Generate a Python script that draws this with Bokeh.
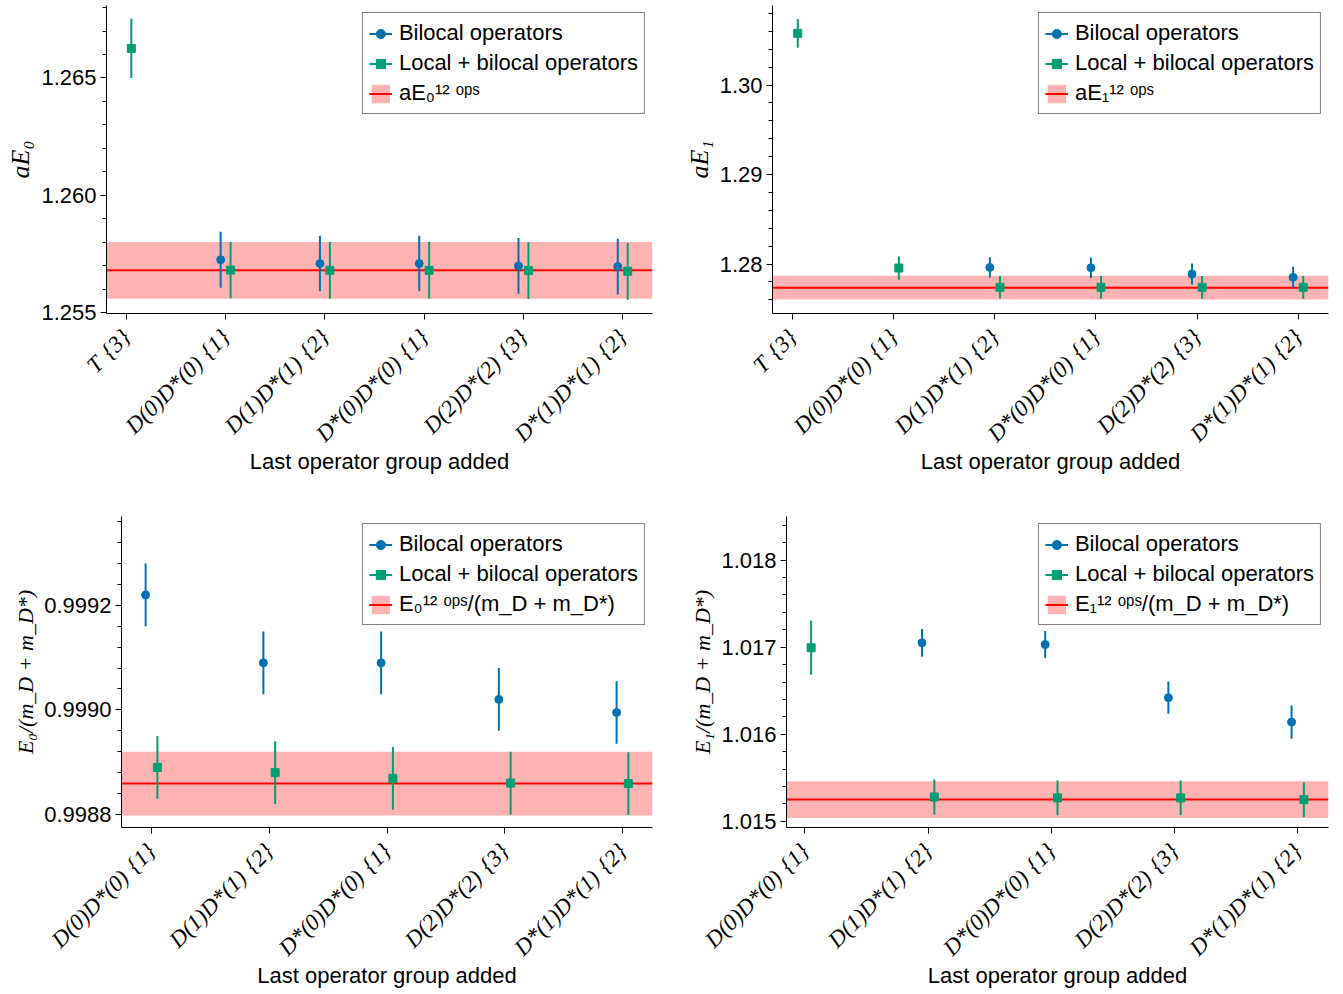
import math
from bokeh.plotting import figure
from bokeh.layouts import column, row
from bokeh.models import (ColumnDataSource, FixedTicker, SingleIntervalTicker, Legend, LegendItem,
                          Range1d, PrintfTickFormatter)
from bokeh.embed import file_html
from bokeh.resources import INLINE

NAN = float("nan")

# ---------------- data ----------------
cats_top = ["T\u2004{3}", "D(0)D*(0)\u2004{1}", "D(1)D*(1)\u2004{2}", "D*(0)D*(0)\u2004{1}",
            "D(2)D*(2)\u2004{3}", "D*(1)D*(1)\u2004{2}"]
cats_bottom = ["D(0)D*(0)\u2004{1}", "D(1)D*(1)\u2004{2}", "D*(0)D*(0)\u2004{1}",
               "D(2)D*(2)\u2004{3}", "D*(1)D*(1)\u2004{2}"]

# panel 1: aE0
e0_bil = [NAN, 1.25725, 1.25709, 1.25709, 1.25699, 1.25696]
e0_bil_err = [NAN, 0.00119, 0.00118, 0.00118, 0.00119, 0.00119]
e0_loc = [1.26626, 1.25681, 1.25680, 1.25680, 1.25679, 1.25676]
e0_loc_err = [0.00126, 0.00120, 0.00121, 0.00121, 0.00121, 0.00121]
e0_ref, e0_ref_err = 1.25680, 0.00121

# panel 2: aE1
e1_bil = [NAN, NAN, 1.27963, 1.27959, 1.27889, 1.27852]
e1_bil_err = [NAN, NAN, 0.00113, 0.00115, 0.00118, 0.00117]
e1_loc = [1.30578, 1.27956, 1.27741, 1.27740, 1.27740, 1.27740]
e1_loc_err = [0.00160, 0.00130, 0.00126, 0.00126, 0.00126, 0.00126]
e1_ref, e1_ref_err = 1.27737, 0.00132

# panel 3: E0/(mD+mD*)
r0_bil = [0.99922, 0.99909, 0.99909, 0.99902, 0.998995]
r0_bil_err = [0.00006, 0.00006, 0.00006, 0.00006, 0.00006]
r0_loc = [0.99889, 0.99888, 0.998869, 0.99886, 0.998859]
r0_loc_err = [0.00006, 0.00006, 0.00006, 0.00006, 0.00006]
r0_ref, r0_ref_err = 0.998859, 0.000061

# panel 4: E1/(mD+mD*)
r1_bil = [NAN, 1.01705, 1.01703, 1.01642, 1.01614]
r1_bil_err = [NAN, 0.00016, 0.000155, 0.000185, 0.00019]
r1_loc = [1.016993, 1.01528, 1.01527, 1.01527, 1.01525]
r1_loc_err = [0.00031, 0.00020, 0.00020, 0.00020, 0.00020]
r1_ref, r1_ref_err = 1.01525, 0.00021

BLUE = "#0072B2"
GREEN = "#009E73"
RED = "#FF0000"
SANS = "Liberation Sans"
SERIF = "Liberation Serif"
FS = "22px"


def make_panel(cats, bil, bil_err, loc, loc_err, ref, ref_err, ylabel, ylabel_size, reflabel,
               yr, interval, fmt, borders, width, height):
    n = len(cats)
    xs = list(range(1, n + 1))
    xb = [x - 0.05 for x in xs]
    xl = [x + 0.05 for x in xs]
    # x limits: 5% margin around data
    xmin = min([a for a, v in zip(xb, bil) if v == v] + [a for a, v in zip(xl, loc) if v == v])
    xmax = max([a for a, v in zip(xb, bil) if v == v] + [a for a, v in zip(xl, loc) if v == v])
    pad = 0.05 * (xmax - xmin)
    x0, x1 = xmin - pad, xmax + pad

    left, right, top, bottom = borders
    p = figure(width=width, height=height, output_backend="svg", toolbar_location=None,
               x_range=Range1d(x0, x1), y_range=Range1d(*yr),
               min_border_left=left, min_border_right=right, min_border_top=top, min_border_bottom=bottom)
    p.outline_line_color = None
    p.xgrid.visible = False
    p.ygrid.visible = False
    p.background_fill_color = "white"
    p.border_fill_color = "white"

    src_b = ColumnDataSource(dict(x=xb, y=bil, lo=[v - e for v, e in zip(bil, bil_err)],
                                  hi=[v + e for v, e in zip(bil, bil_err)]))
    src_l = ColumnDataSource(dict(x=xl, y=loc, lo=[v - e for v, e in zip(loc, loc_err)],
                                  hi=[v + e for v, e in zip(loc, loc_err)]))

    band = p.varea(x=[x0, x1], y1=[ref - ref_err] * 2, y2=[ref + ref_err] * 2,
                   fill_color=RED, fill_alpha=0.3)
    refline = p.line(x=[x0, x1], y=[ref] * 2, line_color=RED, line_width=2)

    seg_b = p.segment(x0="x", y0="lo", x1="x", y1="hi", source=src_b, line_color=BLUE, line_width=2)
    sc_b = p.scatter(x="x", y="y", source=src_b, marker="circle", size=8,
                     fill_color=BLUE, line_color=BLUE)
    seg_l = p.segment(x0="x", y0="lo", x1="x", y1="hi", source=src_l, line_color=GREEN, line_width=2)
    sc_l = p.scatter(x="x", y="y", source=src_l, marker="square", size=8,
                     fill_color=GREEN, line_color=GREEN)

    # axes
    xa = p.xaxis[0]
    xa.ticker = FixedTicker(ticks=xs, minor_ticks=[])
    xa.major_label_overrides = {x: c for x, c in zip(xs, cats)}
    xa.major_label_orientation = math.pi / 4
    xa.major_label_text_font = SERIF
    xa.major_label_text_font_style = "italic"
    xa.major_label_text_font_size = "23px"
    xa.major_label_standoff = 14
    xa.axis_label = "Last operator group added"
    xa.axis_label_text_font = SANS
    xa.axis_label_text_font_style = "normal"
    xa.axis_label_text_font_size = FS
    xa.axis_label_standoff = -9

    ya = p.yaxis[0]
    ya.ticker = SingleIntervalTicker(interval=interval, num_minor_ticks=5)
    ya.formatter = PrintfTickFormatter(format=fmt)
    ya.major_label_text_font = SANS
    ya.major_label_text_font_size = FS
    ya.major_label_standoff = 4
    ya.axis_label = ylabel
    ya.axis_label_text_font = SERIF
    ya.axis_label_text_font_style = "italic"
    ya.axis_label_text_font_size = ylabel_size
    ya.axis_label_standoff = 3

    for ax in (xa, ya):
        ax.axis_line_color = "black"
        ax.axis_line_width = 1
        ax.major_tick_line_color = "black"
        ax.minor_tick_line_color = "black"
        ax.major_tick_out = 6
        ax.major_tick_in = 0
        ax.minor_tick_out = 4
        ax.minor_tick_in = 0
        ax.major_label_text_color = "black"
        ax.axis_label_text_color = "black"

    legend = Legend(items=[
        LegendItem(label="Bilocal operators", renderers=[seg_b, sc_b]),
        LegendItem(label="Local + bilocal operators", renderers=[seg_l, sc_l]),
        LegendItem(label=reflabel, renderers=[band, refline]),
    ], location="top_right")
    legend.label_text_font = SANS
    legend.label_text_font_size = FS
    legend.label_text_color = "black"
    legend.border_line_color = "black"
    legend.border_line_width = 1
    legend.background_fill_color = "white"
    legend.background_fill_alpha = 1.0
    legend.padding = 6
    legend.spacing = 2
    legend.margin = 7
    legend.glyph_width = 23
    legend.glyph_height = 23
    legend.label_height = 28
    legend.label_standoff = 7
    p.add_layout(legend)
    return p


p1 = make_panel(cats_top, e0_bil, e0_bil_err, e0_loc, e0_loc_err, e0_ref, e0_ref_err,
                "aE₀", "26px", "aE₀¹² ᵒᵖˢ", (1.25496, 1.26809), 0.005, "%.3f", (106, 19, 5, 184), 671, 497)
p2 = make_panel(cats_top, e1_bil, e1_bil_err, e1_loc, e1_loc_err, e1_ref, e1_ref_err,
                "aE₁", "26px", "aE₁¹² ᵒᵖˢ", (1.27448, 1.30889), 0.01, "%.2f", (101, 15, 5, 184), 672, 497)
p3 = make_panel(cats_bottom, r0_bil, r0_bil_err, r0_loc, r0_loc_err, r0_ref, r0_ref_err,
                "E₀/(m_D + m_D*)", "22px", "E₀¹² ᵒᵖˢ/(m_D + m_D*)", (0.998775, 0.99937), 0.0002, "%.4f",
                (121, 19, 19, 167), 671, 497)
p4 = make_panel(cats_bottom, r1_bil, r1_bil_err, r1_loc, r1_loc_err, r1_ref, r1_ref_err,
                "E₁/(m_D + m_D*)", "22px", "E₁¹² ᵒᵖˢ/(m_D + m_D*)", (1.01493, 1.01850), 0.001, "%.3f",
                (115, 15, 19, 167), 672, 497)

layout = column(row(p1, p2), row(p3, p4))
open("out.html", "w").write(file_html(layout, INLINE))
